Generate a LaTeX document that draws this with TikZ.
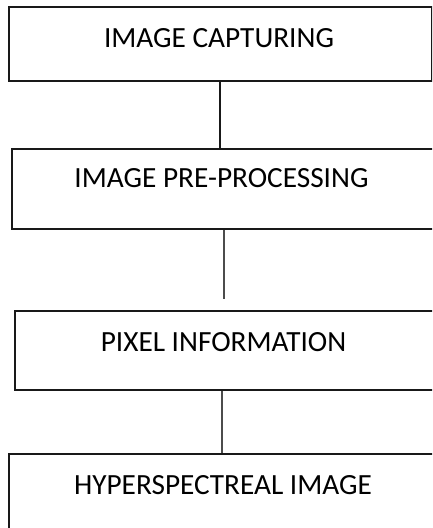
\documentclass[tikz,border=0pt]{standalone}
\usepackage{fontspec}
\setmainfont{Carlito}
\begin{document}
\begin{tikzpicture}[x=1pt,y=-1pt,
  stepbox/.style={draw=black!90, line width=2pt, rectangle, inner sep=0pt, anchor=north west},
  lbl/.style={font=\fontsize{29.3}{31}\selectfont, inner sep=0pt, text=black},
  linkA/.style={draw=black!90, line width=2pt},
  linkB/.style={draw=black!70, line width=1.3pt}]
\clip (0,0) rectangle (432,528);
\node[stepbox, line width=2.4pt, minimum width=423pt, minimum height=74pt] (b1) at (8,6) {};
\node[stepbox, minimum width=440pt, minimum height=80pt] (b2) at (11,148) {};
\node[stepbox, minimum width=440pt, minimum height=79pt] (b3) at (14,310) {};
\node[stepbox, minimum width=440pt, minimum height=75pt] (b4) at (8,453) {};
\node[lbl] (t1) at (219,38) {IMAGE CAPTURING};
\node[lbl] (t2) at (221.5,178) {IMAGE PRE-PROCESSING};
\node[lbl] (t3) at (223.5,342) {PIXEL INFORMATION};
\node[lbl] (t4) at (223,485) {HYPERSPECTREAL IMAGE};
\coordinate (c1) at (220,0);
\coordinate (e2) at (224,299);
\coordinate (c3) at (222,0);
\draw[linkA] (b1.south -| c1) -- (b2.north -| c1);
\draw[linkB] (b2.south -| e2) -- (e2);
\draw[linkB] (b3.south -| c3) -- (b4.north -| c3);
\end{tikzpicture}
\end{document}
